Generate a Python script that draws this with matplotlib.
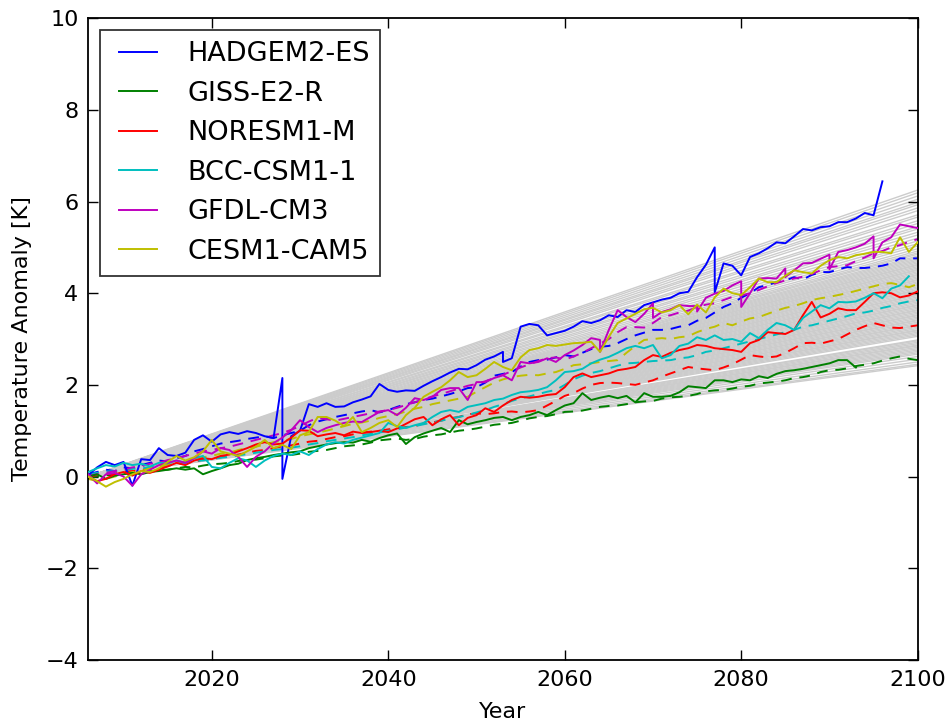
import matplotlib
matplotlib.use("Agg")
import matplotlib.pyplot as plt

# ---- data ------------------------------------------------------------------
years = list(range(2006, 2101))

# grey ensemble: straight lines from 0 at 2006 to these values at 2100
ensemble_2100 = [
    6.25, 6.19, 6.12, 6.05, 5.98, 5.93, 5.86, 5.80, 5.71, 5.66, 5.58, 5.52,
    5.45, 5.40, 5.33, 5.27, 5.20, 5.14, 5.08, 5.03, 4.97, 4.92, 4.88, 4.85,
    4.81, 4.78, 4.75, 4.72, 4.69, 4.66, 4.63, 4.61, 4.58, 4.55, 4.52, 4.50,
    4.47, 4.44, 4.41, 4.39, 4.36, 4.33, 4.30, 4.28, 4.25, 4.22, 4.19, 4.17,
    4.14, 4.11, 4.08, 4.06, 4.03, 4.00, 3.97, 3.95, 3.92, 3.89, 3.86, 3.84,
    3.81, 3.78, 3.75, 3.73, 3.70, 3.67, 3.64, 3.62, 3.59, 3.56, 3.53, 3.51,
    3.48, 3.45, 3.42, 3.40, 3.37, 3.34, 3.31, 3.29, 3.26, 3.23, 3.20, 3.18,
    3.15, 3.12, 3.09, 3.06, 2.98, 2.96, 2.93, 2.90, 2.87, 2.85, 2.82, 2.79,
    2.76, 2.73, 2.70, 2.67, 2.62, 2.56, 2.50, 2.45, 2.42,
]

models = ["HADGEM2-ES", "GISS-E2-R", "NORESM1-M", "BCC-CSM1-1", "GFDL-CM3", "CESM1-CAM5"]
colors = [(0, 0, 1), (0, 0.5, 0), (1, 0, 0), (0, 0.75, 0.75), (0.75, 0, 0.75), (0.75, 0.75, 0)]

# solid runs (some files overlap, so a year can appear twice)
hadgem_years = (list(range(2006, 2029)) + [2028] + list(range(2029, 2054)) + [2053]
                + list(range(2054, 2078)) + [2077] + list(range(2078, 2097)))
hadgem = [
    0.03, 0.20, 0.32, 0.25, 0.32, -0.20, 0.38, 0.36, 0.62, 0.47,
    0.45, 0.52, 0.80, 0.90, 0.76, 0.92, 0.97, 0.93, 0.99, 0.95,
    0.88, 0.84, 2.15, -0.05,
    0.88, 1.00, 1.58, 1.52, 1.60, 1.52, 1.53, 1.62, 1.68, 1.75,
    2.02, 1.89, 1.85, 1.88, 1.87, 1.98, 2.08, 2.17, 2.27, 2.35,
    2.34, 2.43, 2.55, 2.62, 2.72, 2.50,
    2.58, 3.27, 3.33, 3.30, 3.08, 3.13, 3.18, 3.27, 3.39, 3.35,
    3.41, 3.52, 3.48, 3.63, 3.59, 3.74, 3.80, 3.86, 3.90, 4.00,
    4.03, 4.35, 4.62, 5.00, 4.02,
    4.65, 4.60, 4.39, 4.79, 4.87, 4.98, 5.11, 5.09, 5.24, 5.40,
    5.37, 5.44, 5.46, 5.55, 5.55, 5.63, 5.75, 5.70, 6.44,
]

giss_years = list(range(2006, 2094))
giss = [
    0.00, 0.05, -0.05, 0.02, 0.05, 0.08, 0.05, 0.10, 0.12, 0.15,
    0.18, 0.15, 0.18, 0.05, 0.12, 0.18, 0.25, 0.28, 0.36, 0.40,
    0.43, 0.47, 0.50, 0.53, 0.55, 0.62, 0.66, 0.70, 0.73, 0.75,
    0.74, 0.80, 0.76, 0.84, 0.90, 0.94, 0.71, 0.86, 0.94, 1.00,
    1.06, 0.97, 1.23, 1.14, 1.19, 1.23, 1.28, 1.30, 1.23, 1.30,
    1.34, 1.41, 1.34, 1.45, 1.55, 1.60, 1.82, 1.67, 1.72, 1.76,
    1.71, 1.76, 1.62, 1.82, 1.74, 1.74, 1.76, 1.84, 1.97, 1.95,
    1.93, 2.10, 2.10, 2.06, 2.12, 2.10, 2.19, 2.15, 2.24, 2.30,
    2.32, 2.35, 2.39, 2.43, 2.47, 2.54, 2.54, 2.38,
]

noresm_years = years
noresm = [
    0.00, -0.10, -0.05, 0.05, 0.10, 0.02, 0.12, 0.08, 0.15, 0.22,
    0.30, 0.25, 0.35, 0.40, 0.38, 0.45, 0.48, 0.55, 0.62, 0.70,
    0.75, 0.70, 0.72, 0.85, 1.01, 1.00, 0.88, 0.92, 0.95, 0.90,
    0.98, 0.95, 0.97, 1.00, 0.97, 1.05, 1.15, 1.25, 1.30, 1.12,
    1.25, 1.34, 1.12, 1.28, 1.34, 1.49, 1.41, 1.55, 1.67, 1.74,
    1.72, 1.74, 1.78, 1.80, 1.95, 2.17, 2.25, 2.17, 2.21, 2.25,
    2.32, 2.35, 2.39, 2.54, 2.65, 2.61, 2.70, 2.76, 2.80, 2.87,
    2.85, 2.80, 2.78, 2.76, 2.72, 2.91, 2.98, 3.15, 3.13, 3.11,
    3.20, 3.52, 3.81, 3.47, 3.55, 3.67, 3.63, 3.63, 3.81, 4.00,
    4.02, 4.00, 3.91, 3.95, 4.04,
]

bcc_years = list(range(2006, 2100))
bcc = [
    0.10, 0.18, 0.25, 0.22, 0.30, 0.25, 0.28, 0.22, 0.30, 0.29,
    0.35, 0.30, 0.40, 0.45, 0.21, 0.18, 0.30, 0.40, 0.35, 0.21,
    0.35, 0.45, 0.50, 0.47, 0.55, 0.47, 0.60, 0.70, 0.75, 0.72,
    0.80, 0.85, 0.90, 0.95, 1.17, 1.10, 1.06, 1.12, 1.17, 1.30,
    1.41, 1.45, 1.41, 1.52, 1.56, 1.60, 1.67, 1.70, 1.78, 1.84,
    1.86, 1.89, 1.95, 2.10, 2.28, 2.30, 2.35, 2.47, 2.55, 2.61,
    2.70, 2.80, 2.85, 2.80, 2.87, 2.58, 2.65, 2.85, 2.90, 3.04,
    2.98, 3.08, 2.98, 3.00, 2.94, 3.13, 3.02, 3.20, 3.35, 3.30,
    3.20, 3.46, 3.60, 3.74, 3.67, 3.81, 3.80, 3.82, 3.90, 4.00,
    3.89, 4.10, 4.17, 4.37,
]

gfdl_years = (list(range(2006, 2065)) + [2064] + list(range(2065, 2071)) + [2070]
              + list(range(2071, 2076)) + [2075] + list(range(2076, 2081)) + [2080]
              + list(range(2081, 2086)) + [2085] + list(range(2086, 2091)) + [2090]
              + list(range(2091, 2096)) + [2095] + list(range(2096, 2101)))
gfdl = [
    0.05, -0.15, 0.05, 0.08, 0.00, -0.20, 0.05, 0.15, 0.25, 0.30,
    0.35, 0.30, 0.40, 0.55, 0.50, 0.62, 0.58, 0.43, 0.21, 0.43,
    0.55, 0.73, 0.85, 1.01, 1.23, 1.08, 0.97, 1.06, 1.12, 1.17,
    1.20, 1.19, 1.30, 1.41, 1.45, 1.34, 1.50, 1.71, 1.67, 1.74,
    1.89, 1.93, 1.93, 1.67, 2.06, 2.06, 2.15, 2.21, 2.10, 2.50,
    2.47, 2.50, 2.58, 2.50, 2.65, 2.75, 2.87, 3.02, 2.98, 2.72,
    3.20, 3.63, 3.48, 3.37, 3.55, 3.78, 3.46,
    3.59, 3.65, 3.74, 3.72, 3.72, 3.60,
    3.90, 3.99, 4.05, 4.17, 4.26, 3.70,
    4.00, 4.32, 4.33, 4.32, 4.54, 4.35,
    4.50, 4.65, 4.66, 4.75, 4.84, 4.52,
    4.90, 4.94, 5.00, 5.08, 5.24, 4.76,
    5.11, 5.22, 5.50, 5.46, 5.42,
]

cesm_years = years
cesm = [
    0.00, -0.10, -0.22, -0.12, -0.05, 0.05, 0.12, 0.10, 0.18, 0.32,
    0.45, 0.35, 0.42, 0.55, 0.80, 0.55, 0.50, 0.45, 0.55, 0.65,
    0.80, 0.62, 0.69, 0.60, 0.90, 0.97, 1.30, 1.30, 1.22, 1.10,
    1.30, 0.97, 1.06, 1.17, 1.23, 1.08, 1.34, 1.50, 1.74, 1.85,
    1.95, 2.10, 2.28, 2.17, 2.21, 2.35, 2.50, 2.39, 2.32, 2.60,
    2.76, 2.80, 2.87, 2.85, 2.88, 2.91, 2.92, 2.94, 2.72, 3.05,
    3.35, 3.45, 3.55, 3.65, 3.68, 3.58, 3.63, 3.74, 3.54, 3.75,
    3.58, 3.91, 4.10, 4.00, 3.96, 4.13, 4.32, 4.24, 4.24, 4.38,
    4.50, 4.46, 4.43, 4.60, 4.72, 4.79, 4.76, 4.83, 4.86, 4.90,
    4.90, 4.87, 5.22, 4.90, 5.11,
]

# dashed runs, 2006-2100
hadgem_b = [
    0.05, 0.10, 0.15, 0.12, 0.20, 0.18, 0.25, 0.30, 0.35, 0.33,
    0.40, 0.45, 0.55, 0.60, 0.66, 0.72, 0.75, 0.78, 0.82, 0.85,
    0.88, 0.84, 0.90, 0.95, 1.00, 1.12, 1.20, 1.25, 1.30, 1.34,
    1.38, 1.42, 1.45, 1.40, 1.45, 1.52, 1.58, 1.62, 1.67, 1.70,
    1.75, 1.80, 1.86, 1.93, 1.95, 2.05, 2.20, 2.24, 2.28, 2.40,
    2.50, 2.54, 2.55, 2.60, 2.65, 2.62, 2.70, 2.78, 2.83, 2.85,
    2.91, 3.00, 3.08, 3.14, 3.20, 3.20, 3.22, 3.27, 3.30, 3.40,
    3.46, 3.58, 3.70, 3.78, 3.90, 4.00, 4.13, 4.18, 4.24, 4.28,
    4.35, 4.30, 4.40, 4.46, 4.46, 4.52, 4.57, 4.55, 4.55, 4.57,
    4.60, 4.65, 4.76, 4.76, 4.76,
]
giss_b = [
    -0.02, 0.00, 0.03, 0.02, 0.06, 0.09, 0.08, 0.12, 0.14, 0.15,
    0.18, 0.21, 0.20, 0.24, 0.27, 0.28, 0.30, 0.34, 0.36, 0.37,
    0.40, 0.44, 0.46, 0.47, 0.50, 0.54, 0.56, 0.58, 0.62, 0.66,
    0.68, 0.70, 0.74, 0.79, 0.81, 0.83, 0.80, 0.82, 0.87, 0.90,
    0.92, 0.96, 1.00, 1.02, 1.05, 1.09, 1.13, 1.15, 1.17, 1.22,
    1.27, 1.30, 1.32, 1.36, 1.41, 1.42, 1.44, 1.48, 1.52, 1.54,
    1.55, 1.58, 1.62, 1.64, 1.65, 1.70, 1.73, 1.74, 1.76, 1.80,
    1.86, 1.88, 1.89, 1.92, 1.96, 1.98, 2.03, 2.05, 2.07, 2.10,
    2.15, 2.17, 2.21, 2.28, 2.32, 2.33, 2.36, 2.41, 2.44, 2.47,
    2.53, 2.58, 2.62, 2.57, 2.54,
]
noresm_b = [
    0.00, 0.03, 0.05, 0.06, 0.11, 0.12, 0.14, 0.19, 0.20, 0.24,
    0.27, 0.30, 0.32, 0.37, 0.38, 0.42, 0.46, 0.48, 0.52, 0.56,
    0.58, 0.62, 0.66, 0.68, 0.72, 0.76, 0.78, 0.82, 0.86, 0.88,
    0.92, 0.96, 0.98, 1.00, 1.03, 1.05, 1.08, 1.10, 1.16, 1.18,
    1.22, 1.27, 1.30, 1.36, 1.38, 1.36, 1.38, 1.41, 1.42, 1.40,
    1.42, 1.45, 1.55, 1.65, 1.76, 1.82, 1.92, 2.00, 2.04, 2.05,
    2.04, 2.02, 2.00, 2.05, 2.10, 2.18, 2.25, 2.32, 2.39, 2.36,
    2.34, 2.32, 2.38, 2.45, 2.55, 2.65, 2.62, 2.60, 2.62, 2.70,
    2.80, 2.91, 2.92, 2.90, 2.95, 3.00, 3.10, 3.20, 3.28, 3.35,
    3.30, 3.25, 3.24, 3.27, 3.30,
]
bcc_b = [
    0.05, 0.08, 0.11, 0.12, 0.14, 0.17, 0.18, 0.20, 0.23, 0.25,
    0.28, 0.30, 0.34, 0.35, 0.38, 0.41, 0.43, 0.46, 0.49, 0.52,
    0.55, 0.58, 0.60, 0.63, 0.66, 0.70, 0.73, 0.77, 0.80, 0.83,
    0.86, 0.90, 0.93, 0.96, 1.00, 1.03, 1.07, 1.10, 1.14, 1.18,
    1.22, 1.26, 1.30, 1.34, 1.40, 1.45, 1.52, 1.58, 1.65, 1.71,
    1.75, 1.80, 1.85, 1.89, 2.00, 2.12, 2.20, 2.26, 2.30, 2.36,
    2.42, 2.47, 2.48, 2.50, 2.52, 2.53, 2.54, 2.58, 2.60, 2.65,
    2.72, 2.75, 2.80, 2.85, 2.90, 2.95, 3.00, 3.05, 3.10, 3.15,
    3.20, 3.27, 3.30, 3.35, 3.40, 3.45, 3.50, 3.56, 3.58, 3.62,
    3.68, 3.72, 3.78, 3.82, 3.85,
]
gfdl_b = [
    0.02, 0.05, 0.08, 0.12, 0.15, 0.20, 0.22, 0.28, 0.30, 0.36,
    0.40, 0.45, 0.50, 0.55, 0.58, 0.62, 0.65, 0.70, 0.75, 0.80,
    0.85, 0.90, 0.95, 1.02, 1.10, 1.20, 1.28, 1.25, 1.22, 1.26,
    1.30, 1.34, 1.38, 1.42, 1.45, 1.50, 1.56, 1.62, 1.68, 1.75,
    1.80, 1.86, 1.92, 1.98, 2.02, 2.08, 2.15, 2.22, 2.30, 2.38,
    2.45, 2.52, 2.58, 2.60, 2.55, 2.62, 2.70, 2.80, 2.90, 3.00,
    3.15, 3.26, 3.26, 3.25, 3.35, 3.48, 3.52, 3.58, 3.62, 3.70,
    3.75, 3.78, 3.85, 3.92, 3.95, 4.00, 4.07, 4.15, 4.22, 4.28,
    4.32, 4.36, 4.42, 4.50, 4.57, 4.59, 4.61, 4.70, 4.78, 4.87,
    4.92, 5.00, 5.05, 5.12, 5.18,
]
cesm_b = [
    -0.05, -0.10, -0.05, 0.00, 0.05, 0.10, 0.12, 0.18, 0.22, 0.25,
    0.30, 0.32, 0.38, 0.42, 0.45, 0.50, 0.52, 0.58, 0.62, 0.65,
    0.70, 0.75, 0.78, 0.82, 0.88, 0.92, 0.96, 1.00, 1.05, 1.10,
    1.15, 1.18, 1.22, 1.28, 1.32, 1.36, 1.42, 1.48, 1.52, 1.58,
    1.62, 1.66, 1.70, 1.74, 1.85, 1.95, 2.05, 2.12, 2.17, 2.20,
    2.22, 2.21, 2.25, 2.28, 2.35, 2.43, 2.45, 2.47, 2.50, 2.52,
    2.54, 2.70, 2.85, 2.98, 3.00, 3.02, 3.00, 3.04, 3.06, 3.15,
    3.22, 3.27, 3.35, 3.30, 3.38, 3.45, 3.48, 3.55, 3.62, 3.68,
    3.72, 3.78, 3.85, 3.89, 3.92, 3.96, 4.00, 4.05, 4.10, 4.15,
    4.20, 4.22, 4.18, 4.13, 4.20,
]

solid_runs = [(hadgem_years, hadgem), (giss_years, giss), (noresm_years, noresm),
              (bcc_years, bcc), (gfdl_years, gfdl), (cesm_years, cesm)]
dashed_runs = [hadgem_b, giss_b, noresm_b, bcc_b, gfdl_b, cesm_b]

# ---- plot ------------------------------------------------------------------
fig = plt.figure(figsize=(9.49, 7.26), dpi=100)
ax = fig.add_axes([0.093, 0.091, 0.874, 0.884])

for end in ensemble_2100:
    ax.plot([years[0], years[-1]], [0, end], color="0.8", lw=1.0, zorder=1)

for vals, col in zip(dashed_runs, colors):
    ax.plot(years, vals, color=col, lw=1.4, ls=(0, (5.5, 4)), zorder=2)

for (xs, vals), col, name in zip(solid_runs, colors, models):
    ax.plot(xs, vals, color=col, lw=1.4, label=name, zorder=3)

ax.set_xlim(2006, 2100)
ax.set_ylim(-4, 10)
ax.set_xticks([2020, 2040, 2060, 2080, 2100])
ax.set_yticks(range(-4, 11, 2))
ax.tick_params(direction="in", length=7, width=1, top=True, right=True, labelsize=16, pad=7)
for sp in ax.spines.values():
    sp.set_linewidth(1.3)

ax.set_xlabel("Year", fontsize=16, labelpad=9)
ax.set_ylabel("Temperature Anomaly [K]", fontsize=16, labelpad=10)

leg = ax.legend(loc="upper left", fontsize=19.5, numpoints=2, handlelength=2.0,
                handletextpad=0.8, borderaxespad=0.45, borderpad=0.4,
                labelspacing=0.5, fancybox=False)
leg.get_frame().set_edgecolor("black")
leg.get_frame().set_linewidth(1.3)

fig.savefig("out.png", dpi=100, facecolor="white")
